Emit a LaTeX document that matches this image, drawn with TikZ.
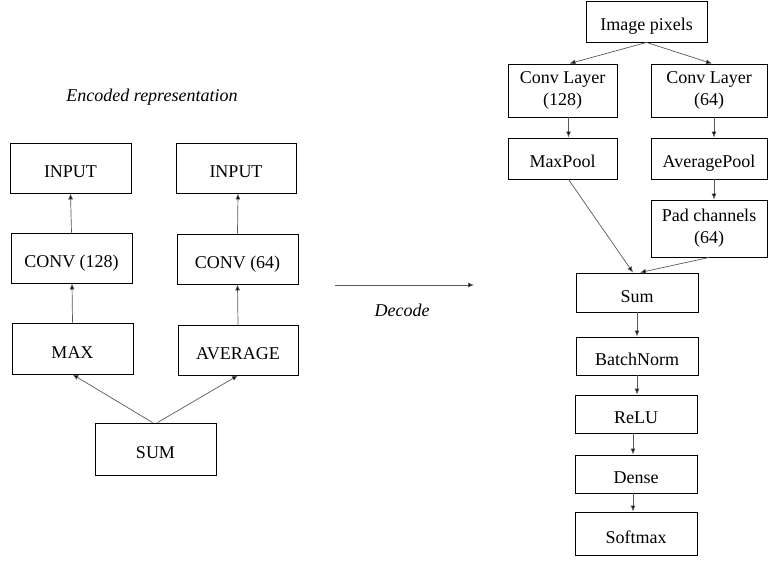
\documentclass[tikz,border=0pt]{standalone}
\usepackage{fontspec}
\setmainfont{Liberation Serif}
\usetikzlibrary{arrows.meta}
\begin{document}
\begin{tikzpicture}[x=1pt,y=-1pt,
  box/.style={draw=black,line width=0.9pt,inner sep=0pt,align=center,
    font=\fontsize{18}{22}\selectfont},
  one/.style={text height=21pt,text depth=2pt},
  conn/.style={draw=black!65,line width=0.7pt,-{Latex[length=6pt,width=5pt,fill=black]}},
  lbl/.style={font=\fontsize{18}{22}\selectfont\itshape}]
\useasboundingbox (0,0) rectangle (768,561);
% left encoded representation
\node[lbl] (enc) at (152,97) {Encoded representation};
\node[box,one,minimum width=121pt,minimum height=50pt] (in1) at (70.5,168) {INPUT};
\node[box,one,minimum width=120pt,minimum height=50pt] (in2) at (236,168) {INPUT};
\node[box,one,minimum width=121pt,minimum height=50pt] (cv1) at (71.5,258) {CONV (128)};
\node[box,one,minimum width=121pt,minimum height=50pt] (cv2) at (237.5,259) {CONV (64)};
\node[box,one,minimum width=121pt,minimum height=51pt] (mx) at (72.5,348.5) {MAX};
\node[box,one,minimum width=120pt,minimum height=50pt] (av) at (238,350) {AVERAGE};
\node[box,one,minimum width=121pt,minimum height=52pt] (sum) at (155.5,449) {SUM};
\draw[conn] ([xshift=-3pt]sum.north) -- (mx.south);
\draw[conn] ([xshift=2pt]sum.north) -- (av.south);
\draw[conn] (mx.north) -- ([xshift=0.5pt]cv1.south);
\draw[conn] (cv1.north) -- (in1.south);
\draw[conn] (av.north) -- (cv2.south);
\draw[conn] (cv2.north) -- ([xshift=2pt]in2.south);
% decode arrow
\coordinate (d0) at (335,285);
\coordinate (d1) at (474,285);
\draw[conn] (d0) -- (d1);
\node[lbl] (dec) at (402,310) {Decode};
% right network
\node[box,one,minimum width=121pt,minimum height=41pt] (img) at (646.5,21.5) {Image pixels};
\node[box,minimum width=109pt,minimum height=53pt] (c128) at (562.5,90.5) {Conv Layer\\(128)};
\node[box,minimum width=116pt,minimum height=53pt] (c64) at (709,90.5) {Conv Layer\\(64)};
\node[box,one,minimum width=109pt,minimum height=41pt] (mp) at (562.5,158.5) {MaxPool};
\node[box,one,minimum width=116pt,minimum height=41pt] (ap) at (709,158.5) {AveragePool};
\node[box,minimum width=116pt,minimum height=57pt] (pad) at (709,228.5) {Pad channels\\(64)};
\node[box,one,minimum width=122pt,minimum height=39pt] (sm) at (637,292.5) {Sum};
\node[box,one,minimum width=122pt,minimum height=38pt] (bn) at (637,356) {BatchNorm};
\node[box,one,minimum width=122pt,minimum height=38pt] (relu) at (636,414) {ReLU};
\node[box,one,minimum width=122pt,minimum height=38pt] (dense) at (636,474) {Dense};
\node[box,one,minimum width=122pt,minimum height=43pt] (soft) at (636,533.5) {Softmax};
\draw[conn] (img.south) -- ([xshift=7pt]c128.north);
\draw[conn] (img.south) -- ([xshift=3pt]c64.north);
\draw[conn] ([xshift=6pt]c128.south) -- ([xshift=6pt]mp.north);
\draw[conn] ([xshift=5pt]c64.south) -- ([xshift=5pt]ap.north);
\draw[conn] ([xshift=5pt]ap.south) -- ([xshift=5pt]pad.north);
\draw[conn] ([xshift=6pt]mp.south) -- ([xshift=-4pt]sm.north);
\draw[conn] (pad.south) -- ([xshift=3pt]sm.north);
\draw[conn] (sm.south) -- (bn.north);
\draw[conn] (bn.south) -- ([xshift=1pt]relu.north);
\draw[conn] ([xshift=-3pt]relu.south) -- ([xshift=-3pt]dense.north);
\draw[conn] ([xshift=-3pt]dense.south) -- ([xshift=-3pt]soft.north);
\end{tikzpicture}
\end{document}
